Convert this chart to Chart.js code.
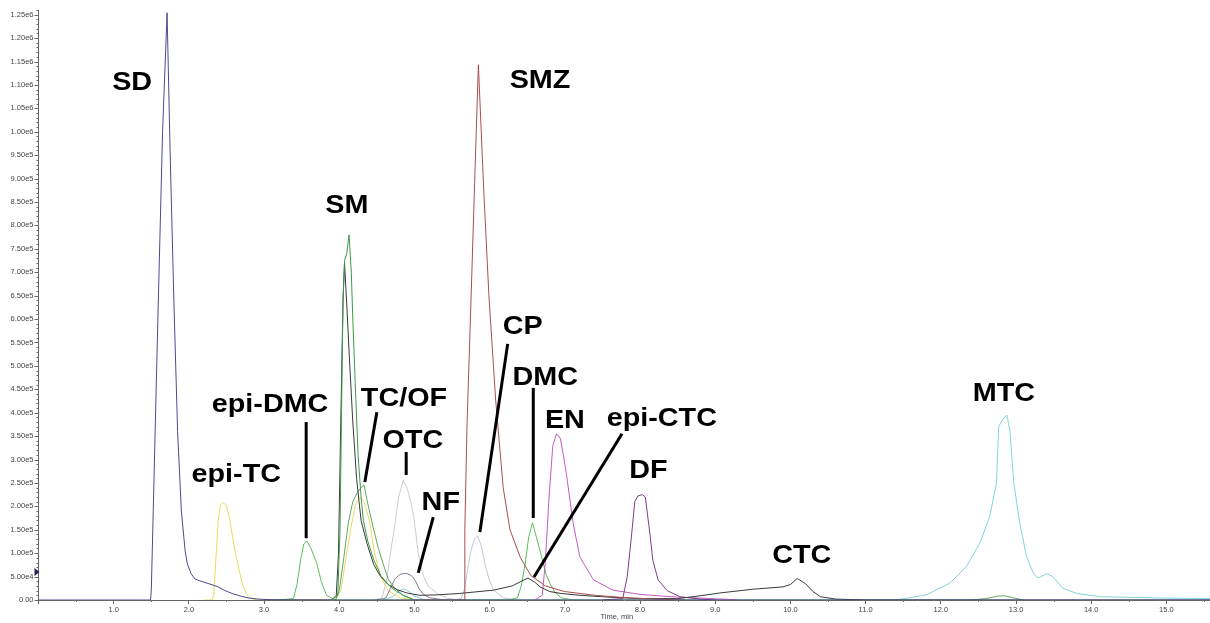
<!DOCTYPE html>
<html>
<head>
<meta charset="utf-8">
<script src="https://cdn.jsdelivr.net/npm/chart.js@4"></script>
<style>
html, body { margin: 0; padding: 0; background: #fff; }
canvas { display: block; }
</style>
</head>
<body>
<canvas id="chromatogram" width="1210" height="623"></canvas>
<script>
// Retention time (min) and intensity (cps) for each trace
const sdTime = [0, 1.49, 1.50, 1.52, 1.56, 1.60, 1.65, 1.71, 1.75, 1.80, 1.85, 1.90, 1.95, 1.98, 2.03, 2.08, 2.16, 2.24, 2.32, 2.39, 2.48, 2.59, 2.70, 2.80, 2.92, 3.05, 3.30, 15.58];
const sdSignal = [0, 0, 2e4, 1.5e5, 4.2e5, 6.8e5, 1.0e6, 1.254e6, 9.6e5, 6.4e5, 3.6e5, 1.9e5, 1.05e5, 7.7e4, 5.6e4, 4.5e4, 4.0e4, 3.6e4, 3.2e4, 2.8e4, 2.0e4, 1.3e4, 8e3, 4e3, 2e3, 8e2, 0, 0];

const smzTime = [5.0, 5.66, 5.67, 5.70, 5.75, 5.80, 5.85, 5.92, 5.99, 6.08, 6.18, 6.27, 6.41, 6.55, 6.74, 7.0, 7.4, 7.8, 8.2, 8.6];
const smzSignal = [0, 0, 1.5e5, 3.8e5, 6.3e5, 8.9e5, 1.143e6, 8.8e5, 6.5e5, 4.27e5, 2.4e5, 1.5e5, 9e4, 5.2e4, 3e4, 1.8e4, 1e4, 5e3, 2e3, 0];

const smTime = [3.9, 3.98, 4.01, 4.03, 4.05, 4.07, 4.10, 4.13, 4.16, 4.18, 4.22, 4.25, 4.29, 4.32, 4.38, 4.46, 4.56, 4.70, 4.85, 5.0];
const smSignal = [0, 1e4, 1.5e5, 4e5, 6.4e5, 7.25e5, 7.4e5, 7.8e5, 7.0e5, 6.0e5, 4.3e5, 3.1e5, 2.2e5, 1.7e5, 1.25e5, 8.5e4, 5e4, 2.5e4, 1e4, 0];

// CTC / epi-CTC transition (dark trace)
const ctcTime = [3.0, 3.9, 3.96, 3.99, 4.02, 4.05, 4.07, 4.10, 4.14, 4.18, 4.23, 4.29, 4.37, 4.46, 4.55, 4.65, 4.77, 4.9, 5.07, 5.3, 5.6, 6.05, 6.3, 6.42, 6.51, 6.6, 6.68, 6.8, 6.95, 7.2, 7.6, 8.0, 8.5, 8.8, 9.06, 9.5, 9.9, 10.0, 10.09, 10.2, 10.3, 10.4, 10.6, 11.0, 15.58];
const ctcSignal = [0, 0, 1e4, 1e5, 3.8e5, 6.4e5, 7.2e5, 6.3e5, 5.0e5, 3.8e5, 2.6e5, 1.7e5, 1.2e5, 7.5e4, 5e4, 3.3e4, 2.2e4, 1.5e4, 1e4, 1.1e4, 1.4e4, 2.1e4, 3.0e4, 4.0e4, 4.7e4, 3.8e4, 2.7e4, 1.8e4, 1.4e4, 1.0e4, 6e3, 3e3, 3e3, 9e3, 1.5e4, 2.3e4, 2.8e4, 3.3e4, 4.6e4, 3.5e4, 1.8e4, 7e3, 2e3, 0, 0];

// epi-TC and TC
const tcTime = [2.2, 2.31, 2.33, 2.36, 2.39, 2.42, 2.46, 2.50, 2.54, 2.57, 2.62, 2.67, 2.72, 2.78, 2.85, 2.95, 3.95, 4.02, 4.08, 4.15, 4.21, 4.27, 4.33, 4.40, 4.47, 4.55, 4.65, 4.8, 5.0];
const tcSignal = [0, 0, 1e4, 9e4, 1.7e5, 2.03e5, 2.08e5, 2.0e5, 1.75e5, 1.45e5, 1.0e5, 6.2e4, 3e4, 1e4, 2e3, 0, 0, 2e4, 8e4, 1.5e5, 2.0e5, 2.2e5, 2.1e5, 1.7e5, 1.0e5, 5e4, 2e4, 5e3, 0];

// epi-DMC and DMC
const dmcTime = [3.2, 3.39, 3.44, 3.49, 3.53, 3.57, 3.62, 3.66, 3.70, 3.76, 3.83, 3.95, 6.25, 6.37, 6.42, 6.47, 6.52, 6.57, 6.62, 6.69, 6.75, 6.80, 6.87, 6.95, 7.1];
const dmcSignal = [0, 3e3, 3.5e4, 9e4, 1.2e5, 1.26e5, 1.12e5, 9.5e4, 7.9e4, 4e4, 1e4, 0, 0, 5e3, 3e4, 7.5e4, 1.35e5, 1.65e5, 1.35e5, 9.3e4, 5.5e4, 3.6e4, 1.6e4, 5e3, 0];

// OF (plus the small bump under MTC)
const ofTime = [3.95, 4.0, 4.06, 4.12, 4.18, 4.24, 4.29, 4.33, 4.38, 4.45, 4.52, 4.58, 4.65, 4.72, 4.85, 5.0, 12.4, 12.6, 12.75, 12.85, 12.95, 13.1];
const ofSignal = [0, 2e4, 9e4, 1.65e5, 2.1e5, 2.3e5, 2.4e5, 2.45e5, 2.05e5, 1.56e5, 1.1e5, 7.9e4, 4.5e4, 2.8e4, 1e4, 0, 0, 3e3, 8e3, 9e3, 5e3, 0];

const otcTime = [4.45, 4.57, 4.63, 4.68, 4.73, 4.79, 4.85, 4.90, 4.95, 4.99, 5.05, 5.11, 5.18, 5.30, 5.43, 5.6];
const otcSignal = [0, 5e3, 4.3e4, 1.0e5, 1.5e5, 2.2e5, 2.55e5, 2.4e5, 2.1e5, 1.8e5, 1.0e5, 5.5e4, 3e4, 1.4e4, 4e3, 0];

const nfTime = [4.5, 4.62, 4.68, 4.74, 4.81, 4.89, 4.96, 5.01, 5.06, 5.12, 5.2, 5.4];
const nfSignal = [0, 4e3, 2.5e4, 4.5e4, 5.5e4, 5.7e4, 5.2e4, 4.2e4, 2.4e4, 1.2e4, 5e3, 0];

const cpTime = [5.5, 5.62, 5.66, 5.70, 5.75, 5.80, 5.84, 5.89, 5.94, 5.99, 6.05, 6.18, 6.35];
const cpSignal = [0, 3e3, 2e4, 5.8e4, 1.05e5, 1.3e5, 1.37e5, 1.15e5, 7.5e4, 4.5e4, 2.2e4, 5e3, 0];

const enTime = [6.6, 6.70, 6.74, 6.79, 6.84, 6.89, 6.94, 6.98, 7.02, 7.11, 7.2, 7.38, 7.64, 8.0, 8.5, 9.1, 9.3];
const enSignal = [0, 1e4, 8e4, 2.2e5, 3.3e5, 3.55e5, 3.45e5, 3.1e5, 2.7e5, 1.64e5, 9.2e4, 4.3e4, 2.1e4, 1.2e4, 6e3, 2e3, 0];

const dfTime = [7.5, 7.77, 7.83, 7.89, 7.93, 7.97, 8.03, 8.07, 8.13, 8.17, 8.24, 8.36, 8.53, 8.8, 9.0];
const dfSignal = [0, 3e3, 5e4, 1.43e5, 2.1e5, 2.22e5, 2.25e5, 2.2e5, 1.43e5, 8.5e4, 4.3e4, 2e4, 7e3, 2e3, 0];

const mtcTime = [4.6, 4.72, 4.8, 4.86, 4.93, 5.0, 5.15, 11.4, 11.81, 12.12, 12.34, 12.52, 12.65, 12.74, 12.77, 12.82, 12.88, 12.92, 12.97, 13.05, 13.14, 13.23, 13.29, 13.41, 13.49, 13.62, 13.81, 14.12, 15.0, 15.58];
const mtcSignal = [0, 8e3, 2e4, 2.4e4, 1.8e4, 8e3, 0, 0, 1.1e4, 3.6e4, 7.1e4, 1.22e5, 1.78e5, 2.5e5, 3.7e5, 3.85e5, 3.95e5, 3.6e5, 2.5e5, 1.64e5, 9.3e4, 5.7e4, 4.7e4, 5.6e4, 5e4, 2.5e4, 1.4e4, 7e3, 4e3, 3e3];

// Peak names with anchor (time, intensity) and the leader lines pointing at peaks
const peakLabels = [
  { text: 'SD', t: 1.245, v: 1.089e6 },
  { text: 'SMZ', t: 6.67, v: 1.093e6 },
  { text: 'SM', t: 4.10, v: 8.26e5 },
  { text: 'epi-DMC', t: 3.08, v: 4.01e5 },
  { text: 'epi-TC', t: 2.63, v: 2.52e5 },
  { text: 'TC/OF', t: 4.86, v: 4.14e5 },
  { text: 'OTC', t: 4.98, v: 3.25e5 },
  { text: 'NF', t: 5.35, v: 1.92e5 },
  { text: 'CP', t: 6.44, v: 5.68e5 },
  { text: 'DMC', t: 6.74, v: 4.59e5 },
  { text: 'EN', t: 7.0, v: 3.67e5 },
  { text: 'epi-CTC', t: 8.29, v: 3.72e5 },
  { text: 'DF', t: 8.11, v: 2.61e5 },
  { text: 'CTC', t: 10.15, v: 7.9e4 },
  { text: 'MTC', t: 12.84, v: 4.25e5 }
];
const leaders = [
  { from: [3.56, 3.80e5], to: [3.56, 1.32e5] },
  { from: [4.50, 4.01e5], to: [4.34, 2.52e5] },
  { from: [4.89, 3.16e5], to: [4.89, 2.67e5] },
  { from: [5.25, 1.77e5], to: [5.05, 5.8e4] },
  { from: [6.24, 5.47e5], to: [5.87, 1.45e5] },
  { from: [6.58, 4.53e5], to: [6.58, 1.75e5] },
  { from: [7.76, 3.55e5], to: [6.59, 4.9e4] }
];

const timeMax = 15.58;
const signalMax = 1.26e6;
const FONT = "'Liberation Sans', Arial, sans-serif";

function pairs(times, values) {
  return times.map((t, i) => ({ x: t, y: values[i] }));
}

function trace(label, times, values, color) {
  return {
    label: label,
    data: pairs(times, values),
    borderColor: color,
    borderWidth: 1,
    pointRadius: 0,
    tension: 0,
    fill: false
  };
}

function isMajor(v) {
  return Math.round(v / 1e4) % 5 === 0;
}

const overlay = {
  id: 'overlay',
  afterDraw(chart) {
    const ctx = chart.ctx;
    const xs = chart.scales.x;
    const ys = chart.scales.y;
    const area = chart.chartArea;
    ctx.save();

    // intensity ticks (long at labelled values) and minor time ticks
    ctx.strokeStyle = '#666';
    ctx.lineWidth = 1;
    ctx.beginPath();
    ys.ticks.forEach(tk => {
      const y = Math.round(ys.getPixelForValue(tk.value)) + 0.5;
      ctx.moveTo(area.left - (isMajor(tk.value) ? 4 : 2), y);
      ctx.lineTo(area.left, y);
    });
    for (let t = 0.5; t < timeMax; t += 1) {
      const x = Math.round(xs.getPixelForValue(t)) + 0.5;
      ctx.moveTo(x, area.bottom);
      ctx.lineTo(x, area.bottom + 2);
    }
    ctx.stroke();

    // small cursor marker on the intensity axis
    const my = ys.getPixelForValue(6e4);
    ctx.fillStyle = '#22225a';
    ctx.beginPath();
    ctx.moveTo(area.left - 4, my - 4);
    ctx.lineTo(area.left + 1, my);
    ctx.lineTo(area.left - 4, my + 4);
    ctx.closePath();
    ctx.fill();

    // leader lines
    ctx.strokeStyle = '#000';
    ctx.lineWidth = 3;
    ctx.lineCap = 'butt';
    leaders.forEach(l => {
      ctx.beginPath();
      ctx.moveTo(xs.getPixelForValue(l.from[0]), ys.getPixelForValue(l.from[1]));
      ctx.lineTo(xs.getPixelForValue(l.to[0]), ys.getPixelForValue(l.to[1]));
      ctx.stroke();
    });

    // peak names
    ctx.fillStyle = '#000';
    ctx.font = 'bold 25px ' + FONT;
    ctx.textAlign = 'center';
    ctx.textBaseline = 'alphabetic';
    peakLabels.forEach(p => {
      ctx.save();
      ctx.translate(xs.getPixelForValue(p.t), ys.getPixelForValue(p.v));
      ctx.scale(1.15, 1);
      ctx.fillText(p.text, 0, 0);
      ctx.restore();
    });

    // axis title
    ctx.fillStyle = '#444';
    ctx.font = '7.5px ' + FONT;
    ctx.textBaseline = 'middle';
    ctx.fillText('Time, min', xs.getPixelForValue(7.69), 617);

    ctx.restore();
  }
};

new Chart(document.getElementById('chromatogram'), {
  type: 'line',
  data: {
    datasets: [
      trace('SD', sdTime, sdSignal, '#4b4b8f'),
      trace('SMZ', smzTime, smzSignal, '#a84e4e'),
      trace('SM', smTime, smSignal, '#3f9a46'),
      trace('CTC', ctcTime, ctcSignal, '#3a3a3a'),
      trace('DF', dfTime, dfSignal, '#7d3d86'),
      trace('EN', enTime, enSignal, '#c05cc6'),
      trace('DMC', dmcTime, dmcSignal, '#5cbd5c'),
      trace('OF', ofTime, ofSignal, '#62a85e'),
      trace('NF', nfTime, nfSignal, '#8a7a92'),
      trace('TC', tcTime, tcSignal, '#e6de62'),
      trace('MTC', mtcTime, mtcSignal, '#86d4dc'),
      trace('CP', cpTime, cpSignal, '#c3c6d8'),
      trace('OTC', otcTime, otcSignal, '#cdcdcd')
    ]
  },
  options: {
    responsive: false,
    animation: false,
    layout: { padding: { top: 10, left: 0, right: 0, bottom: 0 } },
    plugins: {
      legend: { display: false },
      tooltip: { enabled: false }
    },
    scales: {
      x: {
        type: 'linear',
        min: 0,
        max: timeMax,
        afterFit: s => { s.height = 23; },
        grid: { drawOnChartArea: false, drawTicks: true, tickLength: 4, color: '#666' },
        border: { display: true, color: '#666' },
        ticks: {
          stepSize: 1,
          includeBounds: false,
          autoSkip: false,
          maxRotation: 0,
          padding: 1,
          color: '#444',
          font: { family: FONT, size: 7.5 },
          callback: v => (v === 0 ? '' : v.toFixed(1))
        }
      },
      y: {
        type: 'linear',
        min: 0,
        max: signalMax,
        afterFit: s => { s.width = 38.5; },
        grid: { drawOnChartArea: false, drawTicks: false, color: '#666' },
        border: { display: true, color: '#666' },
        ticks: {
          stepSize: 1e4,
          includeBounds: false,
          autoSkip: false,
          padding: 5,
          color: '#444',
          font: { family: FONT, size: 7.5 },
          callback: v => (!isMajor(v) ? '' : v === 0 ? '0.00' : v.toExponential(2).replace('e+', 'e'))
        }
      }
    }
  },
  plugins: [overlay]
});
</script>
</body>
</html>
